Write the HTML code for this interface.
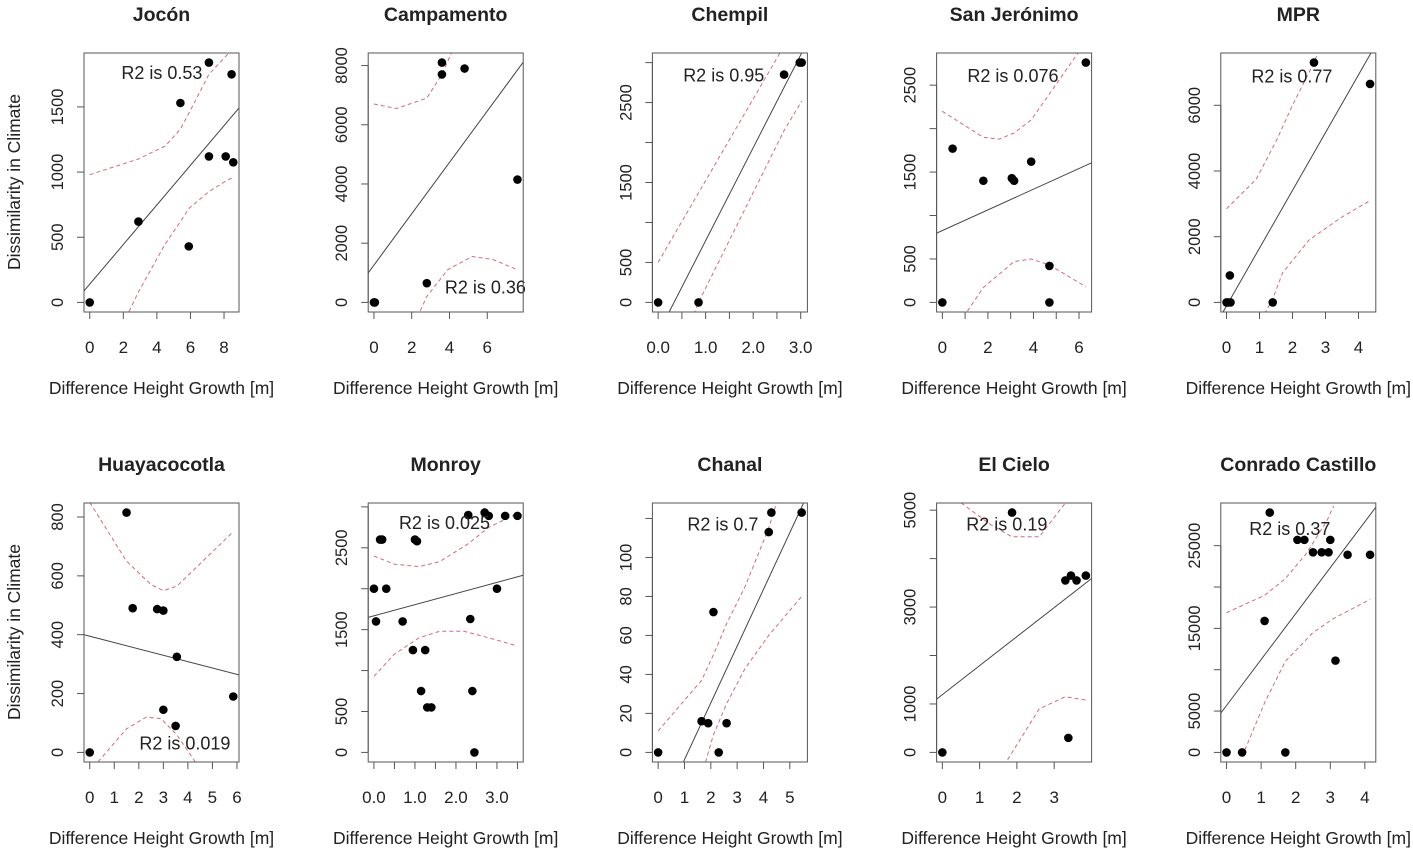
<!DOCTYPE html>
<html>
<head>
<meta charset="utf-8">
<style>
  html, body { margin: 0; padding: 0; background: #ffffff; }
  body { width: 1413px; height: 851px; overflow: hidden; }
  svg { display: block; }
  text { font-family: "Liberation Sans", Arial, sans-serif; fill: #222; }
</style>
</head>
<body>
<svg id="chart" width="1413" height="851" viewBox="0 0 1413 851" xmlns="http://www.w3.org/2000/svg">
  <defs id="defs"></defs>
  <text x="0" y="0" transform="translate(20,182) rotate(-90)" text-anchor="middle" font-size="17.5">Dissimilarity in Climate</text>
  <text x="0" y="0" transform="translate(20,632) rotate(-90)" text-anchor="middle" font-size="17.5">Dissimilarity in Climate</text>
</svg>
<script>
// ---------- Jocón ----------
const joconX = [0, 2.9, 5.4, 5.9, 7.1, 7.1, 8.1, 8.45, 8.55];
const joconY = [0, 620, 1530, 430, 1840, 1120, 1120, 1750, 1075];
const joconFit = [140, 152];
const joconUpX = [0, 2.9, 4.5, 5.4, 5.9, 7.1, 8.55];
const joconUp = [980, 1100, 1200, 1330, 1450, 1750, 1950];
const joconLoX = [0, 2.9, 4.5, 5.4, 5.9, 7.1, 8.1, 8.55];
const joconLo = [-700, 80, 450, 620, 720, 850, 930, 960];
const joconXTicks = [0, 2, 4, 6, 8];
const joconXLabels = ["0", "2", "4", "6", "8"];
const joconYTicks = [0, 500, 1000, 1500];
const joconYLabels = ["0", "500", "1000", "1500"];
const joconR2 = ["R2 is 0.53", 4.3, 1760];

// ---------- Campamento ----------
const campX = [0, 0.05, 2.8, 3.6, 3.6, 4.8, 7.6];
const campY = [0, 0, 650, 8100, 7700, 7900, 4150];
const campFit = [1260, 867];
const campUpX = [0, 1.2, 2.8, 3.6, 4.3];
const campUp = [6700, 6550, 6900, 7700, 8700];
const campLoX = [2.3, 2.8, 3.9, 5.2, 6.3, 7.6];
const campLo = [-500, 200, 1100, 1550, 1450, 1100];
const campXTicks = [0, 2, 4, 6];
const campXLabels = ["0", "2", "4", "6"];
const campYTicks = [0, 2000, 4000, 6000, 8000];
const campYLabels = ["0", "2000", "4000", "6000", "8000"];
const campR2 = ["R2 is 0.36", 5.9, 500];

// ---------- Chempil ----------
const chemX = [0, 0.85, 2.65, 2.98, 3.02];
const chemY = [0, 0, 2850, 3000, 3000];
const chemFit = [-389, 1162];
const chemUpX = [0, 0.85, 2.65];
const chemUp = [500, 1370, 3210];
const chemLoX = [0.75, 0.85, 2.65, 3.02];
const chemLo = [-150, 0, 2150, 2520];
const chemXTicks = [0, 0.5, 1, 1.5, 2, 2.5, 3];
const chemXLabels = ["0.0", "", "1.0", "", "2.0", "", "3.0"];
const chemYTicks = [0, 500, 1000, 1500, 2000, 2500, 3000];
const chemYLabels = ["0", "500", "", "1500", "", "2500", ""];
const chemR2 = ["R2 is 0.95", 1.38, 2840];

// ---------- San Jerónimo ----------
const sanX = [0, 0.45, 1.8, 3.05, 3.15, 3.9, 4.7, 4.7, 6.3];
const sanY = [0, 1770, 1400, 1430, 1400, 1620, 420, 0, 2760];
const sanFit = [827, 119];
const sanUpX = [0, 1.8, 2.5, 3.15, 3.9, 4.7, 6.3];
const sanUp = [2200, 1900, 1880, 1950, 2100, 2400, 3000];
const sanLoX = [1.1, 1.8, 3.15, 3.9, 4.7, 6.3];
const sanLo = [-100, 170, 470, 500, 430, 180];
const sanXTicks = [0, 1, 2, 3, 4, 5, 6];
const sanXLabels = ["0", "", "2", "", "4", "", "6"];
const sanYTicks = [0, 500, 1000, 1500, 2000, 2500];
const sanYLabels = ["0", "500", "", "1500", "", "2500"];
const sanR2 = ["R2 is 0.076", 3.1, 2605];

// ---------- MPR ----------
const mprX = [0, 0.05, 0.1, 0.12, 1.4, 2.65, 4.35];
const mprY = [0, 0, 820, 0, 0, 7300, 6650];
const mprFit = [-104, 1758];
const mprUpX = [0, 0.9, 1.5, 2.0, 2.65, 2.85];
const mprUp = [2850, 3750, 4900, 6000, 7300, 7800];
const mprLoX = [1.15, 1.4, 1.7, 2.5, 3.5, 4.35];
const mprLo = [-350, 100, 900, 1900, 2600, 3100];
const mprXTicks = [0, 1, 2, 3, 4];
const mprXLabels = ["0", "1", "2", "3", "4"];
const mprYTicks = [0, 2000, 4000, 6000];
const mprYLabels = ["0", "2000", "4000", "6000"];
const mprR2 = ["R2 is 0.77", 1.98, 6880];

// ---------- Huayacocotla ----------
const huaX = [0, 1.5, 1.75, 2.75, 3.0, 3.0, 3.5, 3.55, 5.85];
const huaY = [0, 815, 490, 487, 482, 145, 90, 325, 190];
const huaFit = [395, -21.6];
const huaUpX = [0, 1.5, 2.5, 3.0, 3.55, 5.85];
const huaUp = [850, 650, 570, 550, 565, 750];
const huaLoX = [0.15, 1.5, 2.3, 2.9, 3.55, 4.45];
const huaLo = [-50, 80, 120, 115, 60, -50];
const huaXTicks = [0, 1, 2, 3, 4, 5, 6];
const huaXLabels = ["0", "1", "2", "3", "4", "5", "6"];
const huaYTicks = [0, 200, 400, 600, 800];
const huaYLabels = ["0", "200", "400", "600", "800"];
const huaR2 = ["R2 is 0.019", 3.88, 30];

// ---------- Monroy ----------
const monX = [0, 0.05, 0.15, 0.2, 0.3, 0.7, 0.95, 1.0, 1.05, 1.15, 1.25, 1.3, 1.4, 2.3, 2.35, 2.4, 2.45, 2.7, 2.8, 3.0, 3.2, 3.5];
const monY = [2000, 1600, 2600, 2600, 2000, 1600, 1250, 2600, 2580, 750, 1250, 550, 550, 2900, 1630, 750, 0, 2930, 2890, 2000, 2890, 2890];
const monFit = [1669, 136];
const monUpX = [0, 0.5, 1.1, 1.6, 2.3, 2.8, 3.5];
const monUp = [2400, 2300, 2270, 2330, 2550, 2750, 2920];
const monLoX = [0, 0.5, 1.1, 1.6, 2.2, 2.8, 3.5];
const monLo = [930, 1200, 1400, 1480, 1480, 1400, 1300];
const monXTicks = [0, 0.5, 1, 1.5, 2, 2.5, 3, 3.5];
const monXLabels = ["0.0", "", "1.0", "", "2.0", "", "3.0", ""];
const monYTicks = [0, 500, 1000, 1500, 2000, 2500, 3000];
const monYLabels = ["0", "500", "", "1500", "", "2500", ""];
const monR2 = ["R2 is 0.025", 1.72, 2800];

// ---------- Chanal ----------
const chaX = [0, 1.65, 1.9, 2.1, 2.3, 2.6, 4.2, 4.3, 5.45];
const chaY = [0, 16, 15, 72, 0, 15, 113, 123, 123];
const chaFit = [-32.8, 29.1];
const chaUpX = [0, 1.65, 2.1, 2.6, 3.3, 4.2, 4.5];
const chaUp = [11, 37, 50, 66, 85, 115, 128];
const chaLoX = [1.8, 2.1, 2.6, 3.3, 4.2, 5.45];
const chaLo = [-5, 9, 25, 43, 60, 80];
const chaXTicks = [0, 1, 2, 3, 4, 5];
const chaXLabels = ["0", "1", "2", "3", "4", "5"];
const chaYTicks = [0, 20, 40, 60, 80, 100, 120];
const chaYLabels = ["0", "20", "40", "60", "80", "100", ""];
const chaR2 = ["R2 is 0.7", 2.46, 117];

// ---------- El Cielo ----------
const cieX = [0, 1.87, 3.3, 3.38, 3.45, 3.6, 3.85];
const cieY = [0, 4950, 3550, 300, 3650, 3550, 3650];
const cieFit = [1192, 599];
const cieUpX = [0.5, 1.3, 1.87, 2.6, 3.3];
const cieUp = [5150, 4700, 4450, 4450, 5150];
const cieLoX = [1.75, 2.6, 3.3, 3.85];
const cieLo = [-150, 900, 1150, 1080];
const cieXTicks = [0, 1, 2, 3];
const cieXLabels = ["0", "1", "2", "3"];
const cieYTicks = [0, 1000, 2000, 3000, 4000, 5000];
const cieYLabels = ["0", "1000", "", "3000", "", "5000"];
const cieR2 = ["R2 is 0.19", 1.73, 4700];

// ---------- Conrado Castillo ----------
const conX = [0, 0.45, 1.1, 1.25, 1.7, 2.05, 2.25, 2.5, 2.75, 2.95, 3.0, 3.15, 3.5, 4.15];
const conY = [0, 0, 15900, 29000, 0, 25700, 25700, 24200, 24200, 24200, 25700, 11100, 23900, 23900];
const conFit = [5672, 5555];
const conUpX = [0, 1.1, 1.7, 2.3, 2.9, 3.1];
const conUp = [16900, 19000, 21000, 24000, 28000, 29800];
const conLoX = [0.45, 1.1, 1.7, 2.5, 3.1, 4.15];
const conLo = [-500, 6000, 11000, 14500, 16200, 18500];
const conXTicks = [0, 1, 2, 3, 4];
const conXLabels = ["0", "1", "2", "3", "4"];
const conYTicks = [0, 5000, 10000, 15000, 20000, 25000];
const conYLabels = ["0", "5000", "", "15000", "", "25000"];
const conR2 = ["R2 is 0.37", 1.83, 27000];

const panelTitles = ["Jocón", "Campamento", "Chempil", "San Jerónimo", "MPR",
                     "Huayacocotla", "Monroy", "Chanal", "El Cielo", "Conrado Castillo"];

const panels = [
  [joconX, joconY, joconFit, joconUpX, joconUp, joconLoX, joconLo, joconXTicks, joconXLabels, joconYTicks, joconYLabels, joconR2, "jocon"],
  [campX, campY, campFit, campUpX, campUp, campLoX, campLo, campXTicks, campXLabels, campYTicks, campYLabels, campR2, "campamento"],
  [chemX, chemY, chemFit, chemUpX, chemUp, chemLoX, chemLo, chemXTicks, chemXLabels, chemYTicks, chemYLabels, chemR2, "chempil"],
  [sanX, sanY, sanFit, sanUpX, sanUp, sanLoX, sanLo, sanXTicks, sanXLabels, sanYTicks, sanYLabels, sanR2, "san-jeronimo"],
  [mprX, mprY, mprFit, mprUpX, mprUp, mprLoX, mprLo, mprXTicks, mprXLabels, mprYTicks, mprYLabels, mprR2, "mpr"],
  [huaX, huaY, huaFit, huaUpX, huaUp, huaLoX, huaLo, huaXTicks, huaXLabels, huaYTicks, huaYLabels, huaR2, "huayacocotla"],
  [monX, monY, monFit, monUpX, monUp, monLoX, monLo, monXTicks, monXLabels, monYTicks, monYLabels, monR2, "monroy"],
  [chaX, chaY, chaFit, chaUpX, chaUp, chaLoX, chaLo, chaXTicks, chaXLabels, chaYTicks, chaYLabels, chaR2, "chanal"],
  [cieX, cieY, cieFit, cieUpX, cieUp, cieLoX, cieLo, cieXTicks, cieXLabels, cieYTicks, cieYLabels, cieR2, "el-cielo"],
  [conX, conY, conFit, conUpX, conUp, conLoX, conLo, conXTicks, conXLabels, conYTicks, conYLabels, conR2, "conrado-castillo"]
];

const NS = "http://www.w3.org/2000/svg";
const svg = document.getElementById("chart");
const defs = document.getElementById("defs");
const BOX_W = 155, BOX_H = 259;

function mk(tag, attrs, parent) {
  const el = document.createElementNS(NS, tag);
  for (const k in attrs) el.setAttribute(k, attrs[k]);
  parent.appendChild(el);
  return el;
}

panels.forEach(function (p, i) {
  const xs = p[0], ys = p[1], fit = p[2];
  const upX = p[3], up = p[4], loX = p[5], lo = p[6];
  const xT = p[7], xL = p[8], yT = p[9], yL = p[10], r2 = p[11], key = p[12];
  const col = i % 5, row = Math.floor(i / 5);
  const L = 84 + col * 284.2, T = row === 0 ? 53 : 503;

  const xmin0 = Math.min.apply(null, xs), xmax0 = Math.max.apply(null, xs);
  const ymin0 = Math.min.apply(null, ys), ymax0 = Math.max.apply(null, ys);
  const xr = xmax0 - xmin0, yr = ymax0 - ymin0;
  const xmin = xmin0 - 0.04 * xr, xmax = xmax0 + 0.04 * xr;
  const ymin = ymin0 - 0.04 * yr, ymax = ymax0 + 0.04 * yr;
  const sx = function (v) { return L + (v - xmin) / (xmax - xmin) * BOX_W; };
  const sy = function (v) { return T + BOX_H - (v - ymin) / (ymax - ymin) * BOX_H; };

  const g = mk("g", {}, svg);
  
  

  const clip = mk("clipPath", { id: "clip" + i }, defs);
  mk("rect", { x: L, y: T, width: BOX_W, height: BOX_H }, clip);

  const title = mk("text", { x: L + BOX_W / 2, y: T - 32, "text-anchor": "middle", "font-size": "19.5", "font-weight": "bold" }, g);
  title.textContent = panelTitles[i];
  
  

  const xTitle = mk("text", { x: L + BOX_W / 2, y: T + BOX_H + 82, "text-anchor": "middle", "font-size": "17.5" }, g);
  xTitle.textContent = "Difference Height Growth [m]";
  
  

  const xa = mk("g", {}, g);
  
  
  mk("line", { x1: sx(xT[0]), x2: sx(xT[xT.length - 1]), y1: T + BOX_H, y2: T + BOX_H, stroke: "#555", "stroke-width": 1 }, xa);
  xT.forEach(function (v, j) {
    const x = sx(v);
    mk("line", { x1: x, x2: x, y1: T + BOX_H, y2: T + BOX_H + 7, stroke: "#555", "stroke-width": 1 }, xa);
    if (xL[j]) {
      const t = mk("text", { x: x, y: T + BOX_H + 41, "text-anchor": "middle", "font-size": "17" }, xa);
      t.textContent = xL[j];
      
      
    }
  });

  const ya = mk("g", {}, g);
  
  
  mk("line", { x1: L, x2: L, y1: sy(yT[0]), y2: sy(yT[yT.length - 1]), stroke: "#555", "stroke-width": 1 }, ya);
  yT.forEach(function (v, j) {
    const y = sy(v);
    mk("line", { x1: L - 7, x2: L, y1: y, y2: y, stroke: "#555", "stroke-width": 1 }, ya);
    if (yL[j]) {
      const t = mk("text", { x: 0, y: 0, transform: "translate(" + (L - 21) + "," + y + ") rotate(-90)", "text-anchor": "middle", "font-size": "16.5" }, ya);
      t.textContent = yL[j];
      
      
    }
  });

  const inner = mk("g", { "clip-path": "url(#clip" + i + ")" }, g);

  const reg = mk("line", { x1: sx(xmin), y1: sy(fit[0] + fit[1] * xmin), x2: sx(xmax), y2: sy(fit[0] + fit[1] * xmax), stroke: "#444", "stroke-width": 1 }, inner);
  
  

  const upPts = upX.map(function (v, j) { return sx(v).toFixed(1) + "," + sy(up[j]).toFixed(1); }).join(" ");
  const bu = mk("polyline", { points: upPts, fill: "none", stroke: "#d46a7e", "stroke-width": 1, "stroke-dasharray": "4,3" }, inner);
  
  
  const loPts = loX.map(function (v, j) { return sx(v).toFixed(1) + "," + sy(lo[j]).toFixed(1); }).join(" ");
  const bl = mk("polyline", { points: loPts, fill: "none", stroke: "#d46a7e", "stroke-width": 1, "stroke-dasharray": "4,3" }, inner);
  
  

  xs.forEach(function (v, j) {
    const c = mk("circle", { cx: sx(v), cy: sy(ys[j]), r: 4.3, fill: "#000" }, inner);
    
    
  });

  const rt = mk("text", { x: sx(r2[1]), y: sy(r2[2]) + 6, "text-anchor": "middle", "font-size": "18" }, g);
  rt.textContent = r2[0];
  
  

  const box = mk("rect", { x: L, y: T, width: BOX_W, height: BOX_H, fill: "none", stroke: "#555", "stroke-width": 1 }, g);
  
  
});
</script>
</body>
</html>
